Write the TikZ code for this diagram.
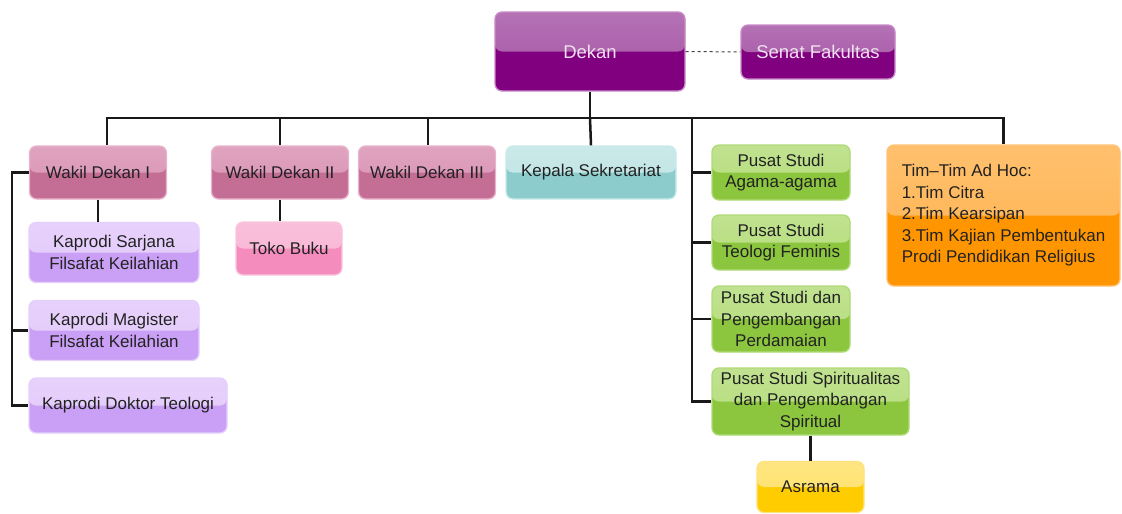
\documentclass[tikz,border=0pt]{standalone}
\usepackage{fontspec}
\setmainfont{Liberation Sans}
\begin{document}
\begin{tikzpicture}[x=1pt,y=-1pt]
\definecolor{txt}{HTML}{222222}
\definecolor{dkB}{HTML}{800080}\definecolor{dkT}{HTML}{A453A4}\definecolor{dkL}{HTML}{C98AC9}
\definecolor{wdB}{HTML}{C46E96}\definecolor{wdT}{HTML}{D890B2}\definecolor{wdL}{HTML}{E8B4CC}
\definecolor{kpB}{HTML}{C9A0F5}\definecolor{kpT}{HTML}{E2C8FA}\definecolor{kpL}{HTML}{E6D0FB}
\definecolor{tbB}{HTML}{F58CBE}\definecolor{tbT}{HTML}{F8B2D3}\definecolor{tbL}{HTML}{F9C6DE}
\definecolor{ksB}{HTML}{8CCCCC}\definecolor{ksT}{HTML}{BFE4E4}\definecolor{ksL}{HTML}{CBEAEA}
\definecolor{gnB}{HTML}{8CC63F}\definecolor{gnT}{HTML}{B3DC78}\definecolor{gnL}{HTML}{B0DA78}
\definecolor{orB}{HTML}{FF9500}\definecolor{orT}{HTML}{FFB24D}\definecolor{orL}{HTML}{FFC275}
\definecolor{yeB}{HTML}{FFCC00}\definecolor{yeT}{HTML}{FFE066}\definecolor{yeL}{HTML}{FFE27F}
\tikzset{
  glossy/.style n args={3}{rounded corners=7pt, fill=#1, draw=#3, line width=1.3pt,
    path picture={\shade[top color=white!18!#2, bottom color=#2] (path picture bounding box.north west) rectangle (path picture bounding box.east);}},
  lbl/.style={font=\fontsize{17}{21.5}\selectfont, align=center, text=txt, inner sep=0pt},
  dekanbox/.style={glossy={dkB}{dkT}{dkL}, font=\fontsize{18.5}{22}\selectfont, text=white!88!dkB, inner sep=0pt},
  wdbox/.style={glossy={wdB}{wdT}{wdL}, lbl, minimum width=137pt, minimum height=53pt},
  kpbox/.style={glossy={kpB}{kpT}{kpL}, lbl, minimum height=60pt},
  gnbox/.style={glossy={gnB}{gnT}{gnL}, lbl, minimum width=138pt},
  conn/.style={line width=2.5pt, black!90},
}
\useasboundingbox (0,0) rectangle (1122,514);
% top
\node[dekanbox, minimum width=190pt, minimum height=79pt] (dekan) at (590,51.5) {Dekan};
\node[dekanbox, minimum width=154pt, minimum height=54pt] (senat) at (818,52) {Senat Fakultas};
% second row
\node[wdbox] (wd1) at (98,172.5) {Wakil Dekan I};
\node[wdbox] (wd2) at (280,172.5) {Wakil Dekan II};
\node[wdbox] (wd3) at (427,172.5) {Wakil Dekan III};
\node[glossy={ksB}{ksT}{ksL}, lbl, minimum width=170pt, minimum height=53pt] (kep) at (591,172.5) {Kepala Sekretariat};
\node[glossy={orB}{orT}{orL}, lbl, align=left, minimum width=233pt, minimum height=141pt] (tim) at (1003.5,215.5)
  {Tim--Tim Ad Hoc:\\1.Tim Citra\\2.Tim Kearsipan\\3.Tim Kajian Pembentukan\\Prodi Pendidikan Religius};
% Kaprodi
\node[kpbox, minimum width=170pt] (ks) at (114,252.5) {Kaprodi Sarjana\\Filsafat Keilahian};
\node[kpbox, minimum width=170pt] (km) at (114,330.5) {Kaprodi Magister\\Filsafat Keilahian};
\node[kpbox, minimum width=198pt, minimum height=55pt] (kd) at (128,405.5) {Kaprodi Doktor Teologi};
\node[glossy={tbB}{tbT}{tbL}, lbl, minimum width=106pt, minimum height=53pt] (toko) at (289,248.5) {Toko Buku};
% Pusat studi
\node[gnbox, minimum height=55pt] (ps1) at (781,172.5) {Pusat Studi\\Agama-agama};
\node[gnbox, minimum height=55pt] (ps2) at (781,242.5) {Pusat Studi\\Teologi Feminis};
\node[gnbox, minimum height=66pt] (ps3) at (781,319) {Pusat Studi dan\\Pengembangan\\Perdamaian};
\node[glossy={gnB}{gnT}{gnL}, lbl, minimum width=197pt, minimum height=67pt] (ps4) at (810.5,401.5) {Pusat Studi Spiritualitas\\dan Pengembangan\\Spiritual};
\node[glossy={yeB}{yeT}{yeL}, lbl, minimum width=107pt, minimum height=51pt] (asr) at (810.5,487) {Asrama};
% connectors
\coordinate (bar) at (0,118);
\coordinate (gv) at (692,118);
\coordinate (lv) at (12,0);
\draw[dashed, line width=1pt, black!75] (dekan.east) -- (senat.west);
\draw[conn] (dekan.south) -- (dekan.south |- bar);
\draw[conn] (dekan.south |- bar) -| ([xshift=9pt]wd1.north);
\draw[conn] (dekan.south |- bar) -| (wd2.north);
\draw[conn] (dekan.south |- bar) -| ([xshift=1pt]wd3.north);
\draw[conn] (dekan.south |- bar) -- (kep.north);
\draw[conn] (dekan.south |- bar) -| (tim.north);
\draw[conn] (dekan.south |- bar) -- (gv) |- (ps4.west);
\draw[conn] (gv |- ps1.west) -- (ps1.west);
\draw[conn] (gv |- ps2.west) -- (ps2.west);
\draw[conn] (gv |- ps3.west) -- (ps3.west);
\draw[conn] (ps4.south) -- (asr.north);
\draw[conn] (wd1.west) -- (wd1.west -| lv) |- (kd.west);
\draw[conn] (lv |- km.west) -- (km.west);
\draw[conn] (wd1.south) -- (wd1.south |- ks.north);
\draw[conn] (wd2.south) -- (wd2.south |- toko.north);
\end{tikzpicture}
\end{document}
